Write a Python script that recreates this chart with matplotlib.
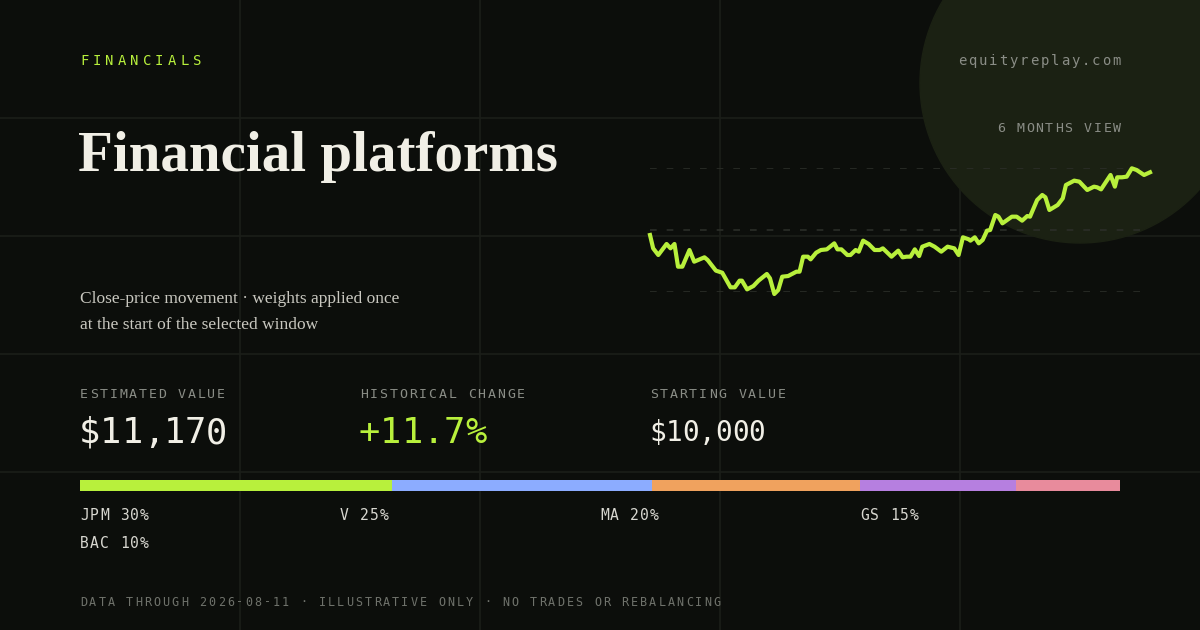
import matplotlib.pyplot as plt
from matplotlib.patches import Circle, Rectangle

# trading day index and portfolio value
days = [0, 0.8, 2.1, 4.2, 5.2, 6.2, 7.1, 8.2, 10, 11.2, 13.8, 14.6, 16.7, 18.3, 20.4, 21.5,
        22.7, 23.3, 24.6, 26.2, 27.5, 29.6, 30.4, 31.5, 32.5, 33.5, 35, 37.1, 37.9, 38.8,
        40, 40.7, 42.1, 43.3, 44.8, 46.7, 47.5, 48.5, 50, 50.8, 52.1, 52.9, 54, 55.4, 56.9,
        58.2, 59, 61.2, 62.9, 64, 65, 66, 67.1, 68.2, 69, 70.8, 72.1, 73.8, 75.4, 77.1, 78.2,
        79.3, 80.8, 81.2, 82.3, 83.3, 84.3, 85.4, 86.2, 87.5, 88.3, 89.3, 91.7, 92.9, 94.3,
        95.6, 96.3, 98.1, 99.4, 100.2, 101.2, 103.3, 104.6, 105.4, 107.5, 108.8, 110.8,
        112.5, 113.3, 114.3, 116.7, 117.8, 118.4, 119.6, 120.8, 122.1, 123.3, 125.2, 126.7]
values = [10000, 9752, 9628, 9833, 9752, 9833, 9411, 9411, 9721, 9504, 9585, 9535, 9337,
          9299, 9027, 9027, 9151, 9151, 8989, 9051, 9151, 9275, 9194, 8903, 8977, 9225,
          9237, 9318, 9318, 9597, 9597, 9547, 9671, 9721, 9733, 9845, 9733, 9733, 9628,
          9628, 9721, 9690, 9895, 9833, 9721, 9721, 9752, 9597, 9709, 9585, 9597, 9597,
          9733, 9609, 9783, 9833, 9783, 9690, 9783, 9752, 9628, 9957, 9919, 9895, 9957,
          9845, 9907, 10081, 10093, 10372, 10341, 10217, 10341, 10341, 10267, 10353, 10341,
          10651, 10744, 10701, 10465, 10558, 10682, 10930, 11011, 10992, 10837, 10899,
          10887, 10849, 11116, 10899, 11073, 11073, 11085, 11240, 11209, 11116, 11166]

tickers = ["JPM", "V", "MA", "GS", "BAC"]
weights = [30, 25, 20, 15, 10]
colors = ["#b8f03c", "#8cacff", "#f0a25e", "#b67fe0", "#e88b9c"]

BG = "#0c0e0b"
GREEN = "#b8f03c"
GRID = "#1b1e19"
W, H = 1200, 630

fig = plt.figure(figsize=(12, 6.3), dpi=100, facecolor=BG)
bg = fig.add_axes([0, 0, 1, 1])
bg.set_xlim(0, W)
bg.set_ylim(H, 0)
bg.axis("off")
bg.set_facecolor(BG)

for x in [240, 480, 720, 960]:
    bg.axvline(x, color=GRID, lw=1.2, zorder=0)
for y in [118, 236, 354, 472]:
    bg.axhline(y, color=GRID, lw=1.2, zorder=0)
bg.add_patch(Circle((1080, 83), 160, color="#1b2113", zorder=1))

mono = "DejaVu Sans Mono"
serif = "Liberation Serif"


def t(x, y, s, **kw):
    bg.text(x, y, s, va="center", zorder=5, **kw)


def spaced(x, y, s, pitch, size, color, right=False):
    # monospace text with extra letter spacing, one glyph per position
    adv = 0.602 * size / 0.72
    if right:
        x = x - (len(s) - 1) * pitch - adv
    for i, ch in enumerate(s):
        bg.text(x + i * pitch, y, ch, va="center", ha="left", family=mono,
                size=size, color=color, zorder=5)


MUTED = "#8a8d86"
spaced(80, 61, "FINANCIALS", 12.5, 10, GREEN)
spaced(1121, 61, "equityreplay.com", 10.3, 10, MUTED, right=True)
spaced(1121, 128, "6 MONTHS VIEW", 9.7, 9.5, MUTED, right=True)
t(78, 157, "Financial platforms", family=serif, size=41, color="#f1efe6", weight="bold")
t(80, 299, "Close-price movement · weights applied once", family=serif, size=12.5, color="#c9c8c0")
t(80, 325, "at the start of the selected window", family=serif, size=12.5, color="#c9c8c0")

stats = [(80, "ESTIMATED VALUE", "$11,170", "#f1efe6", 21.2, 25.5),
         (360, "HISTORICAL CHANGE", "+11.7%", GREEN, 21.2, 25.5),
         (650, "STARTING VALUE", "$10,000", "#f1efe6", 16.6, 20)]
for x, lab, val, c, pitch, size in stats:
    spaced(x, 394, lab, 9.8, 9.5, MUTED)
    spaced(x - 1, 433, val, pitch, size, c)

left = 80
for tk, w, c in zip(tickers, weights, colors):
    width = 1040 * w / 100
    bg.add_patch(Rectangle((left, 480), width, 11, color=c, lw=0, zorder=3))
    left += width
label_pos = [(80, 515), (340, 515), (600, 515), (860, 515), (80, 543)]
for (x, y), tk, w in zip(label_pos, tickers, weights):
    spaced(x, y, f"{tk} {w}%", 10, 10.5, "#d8d7d0")

spaced(80, 602, "DATA THROUGH 2026-08-11 · ILLUSTRATIVE ONLY · NO TRADES OR REBALANCING",
       9.18, 8.5, "#6f726b")

# line chart
ax = fig.add_axes([650 / W, 1 - 292 / H, 500 / W, 124 / H])
ax.set_facecolor("none")
ax.set_xlim(0, 126.7)
ax.set_ylim(8940, 11246)
for yv in [8940, 10093, 11246]:
    ax.axhline(yv, color="#2b2e28", lw=1.2, ls=(0, (4, 6)), zorder=1)
ax.plot(days, values, color=GREEN, lw=3, solid_joinstyle="round", clip_on=False, zorder=3)
ax.axis("off")

fig.savefig("out.png", dpi=100, facecolor=BG)
